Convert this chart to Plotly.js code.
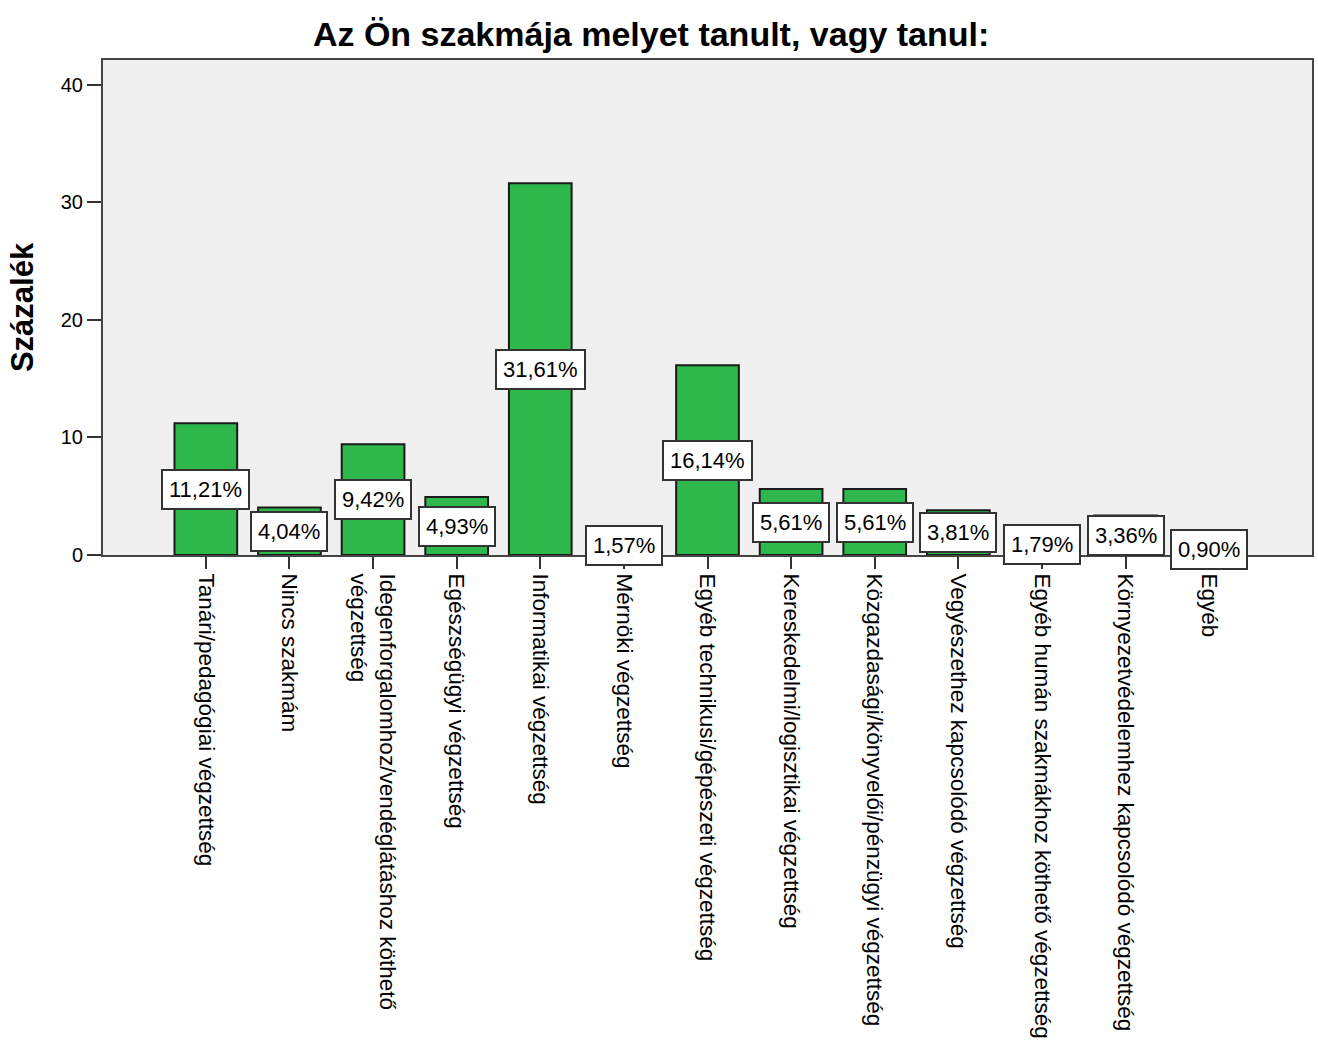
<!DOCTYPE html>
<html>
<head>
<meta charset="utf-8">
<script src="https://cdn.plot.ly/plotly-3.0.1.min.js"></script>
<style>
  html, body { margin: 0; padding: 0; background: #fff; }
  #chart { width: 1318px; height: 1050px; }
</style>
</head>
<body>
<div id="chart"></div>
<script>
// categories as printed under the bars
const categories = [
    'Tanári/pedagógiai végzettség',
    'Nincs szakmám',
    'Idegenforgalomhoz/vendéglátáshoz köthető<br>végzettség',
    'Egészségügyi végzettség',
    'Informatikai végzettség',
    'Mérnöki végzettség',
    'Egyéb technikusi/gépészeti végzettség',
    'Kereskedelmi/logisztikai végzettség',
    'Közgazdasági/könyvelői/pénzügyi végzettség',
    'Vegyészethez kapcsolódó végzettség',
    'Egyéb humán szakmákhoz köthető végzettség',
    'Környezetvédelemhez kapcsolódó végzettség',
    'Egyéb'
];
const percents = [11.21, 4.04, 9.42, 4.93, 31.61, 1.57, 16.14, 5.61, 5.61, 3.81, 1.79, 3.36, 0.90];

const xs = categories.map((c, i) => i);

const bars = {
    type: 'bar',
    x: xs,
    y: percents,
    width: 0.75,
    marker: { color: '#2eb84b', line: { color: '#1a1a1a', width: 2 } },
    hoverinfo: 'skip'
};

// value boxes sit halfway up each bar
const labels = percents.map((v, i) => ({
    x: i,
    y: v / 2,
    text: v.toFixed(2).replace('.', ',') + '%',
    showarrow: false,
    bgcolor: '#ffffff',
    bordercolor: '#333333',
    borderwidth: 2,
    borderpad: 6,
    font: { family: 'Liberation Sans, Arial, sans-serif', size: 22, color: '#000' }
}));

const layout = {
    width: 1318,
    height: 1050,
    margin: { l: 103, r: 6, t: 60, b: 495 },
    paper_bgcolor: '#ffffff',
    plot_bgcolor: '#f0f0f0',
    showlegend: false,
    font: { family: 'Liberation Sans, Arial, sans-serif', color: '#000' },
    title: {
        text: '<b>Az Ön szakmája melyet tanult, vagy tanul:</b>',
        font: { size: 34, color: '#000' },
        x: 0.494, xanchor: 'center',
        y: 0.968, yanchor: 'middle'
    },
    xaxis: {
        range: [-1.23, 13.23],
        tickmode: 'array',
        tickvals: xs,
        ticktext: categories,
        tickangle: 90,
        ticks: 'outside',
        ticklen: 12,
        tickwidth: 2,
        tickcolor: '#333',
        tickfont: { size: 22.5, color: '#000' },
        showgrid: false,
        zeroline: false,
        showline: true,
        linecolor: '#444',
        linewidth: 2,
        mirror: true,
        fixedrange: true
    },
    yaxis: {
        range: [0, 42.1],
        tickvals: [0, 10, 20, 30, 40],
        ticks: 'outside',
        ticklen: 14,
        tickwidth: 2,
        tickcolor: '#333',
        tickfont: { size: 20, color: '#000' },
        showgrid: false,
        zeroline: false,
        showline: true,
        linecolor: '#444',
        linewidth: 2,
        mirror: true,
        title: { text: '<b>Százalék</b>', font: { size: 31, color: '#000' }, standoff: 18 },
        fixedrange: true
    },
    annotations: labels,
    bargap: 0.25
};

Plotly.newPlot('chart', [bars], layout, { displayModeBar: false, staticPlot: true });
</script>
</body>
</html>
